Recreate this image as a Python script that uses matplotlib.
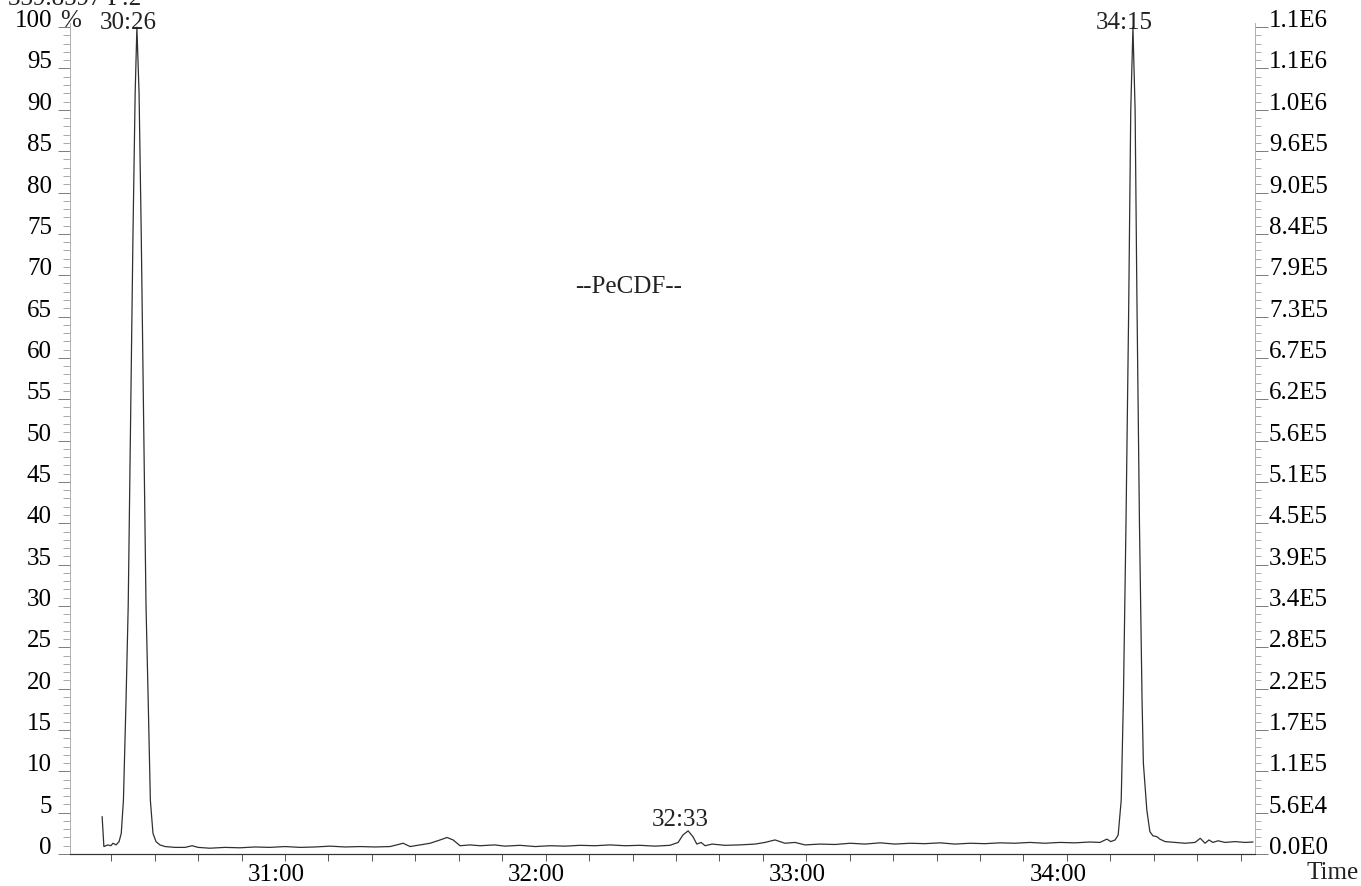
import matplotlib
matplotlib.use("Agg")
import matplotlib.pyplot as plt
import matplotlib.transforms as mtrans
from matplotlib.ticker import MultipleLocator, FuncFormatter

plt.rcParams['font.family'] = ['Liberation Serif', 'DejaVu Serif']

# retention time, seconds after 30:00
time_s = [17.9, 18.3, 19.2, 19.9, 20.4, 21.1, 21.8, 22.3, 22.8, 23.4, 23.9, 24.4,
          25.0, 25.5, 25.9, 26.4, 26.9, 27.5, 28.0, 28.5, 29.0, 29.6, 30.3, 31.2,
          32.4, 34.7, 37.0, 38.6, 40.0, 42.7, 46.2, 49.6, 53.1, 56.5, 60.0, 63.5,
          66.9, 70.4, 73.8, 77.3, 80.7, 84.2, 87.2, 88.8, 91.1, 93.4, 95.7, 97.3,
          98.7, 100.3, 102.6, 104.9, 108.3, 110.6, 114.1, 117.6, 121.0, 124.5, 127.9,
          131.4, 134.8, 138.3, 141.7, 145.2, 148.6, 150.5, 151.6, 152.8, 153.9, 154.8,
          155.8, 156.7, 158.3, 161.3, 164.7, 168.2, 170.5, 172.8, 175.1, 177.4, 179.7,
          183.2, 186.6, 190.1, 193.5, 197.0, 200.4, 203.9, 207.3, 210.8, 214.2, 217.7,
          221.1, 224.6, 228.0, 231.5, 234.9, 238.4, 241.8, 245.3, 247.6, 249.2, 250.1,
          251.1, 251.8, 252.5, 253.0, 253.6, 254.2, 254.7, 255.2, 255.7, 256.1, 256.7,
          257.3, 257.6, 258.4, 259.1, 259.8, 260.7, 261.4, 262.6, 264.9, 267.2, 269.5,
          270.7, 271.8, 272.7, 273.6, 274.8, 276.4, 278.7, 281.0, 282.8]
# relative intensity, %
intensity = [4.5, 0.9, 1.1, 1.0, 1.3, 1.1, 1.5, 2.5, 6.5, 18.6, 30.0, 50.0,
             75.0, 92.0, 100.0, 92.0, 75.0, 50.0, 30.0, 18.6, 6.5, 2.5, 1.5, 1.1,
             0.9, 0.8, 0.8, 1.0, 0.8, 0.7, 0.8, 0.75, 0.85, 0.8, 0.9, 0.8,
             0.85, 0.95, 0.85, 0.9, 0.85, 0.9, 1.3, 0.9, 1.1, 1.3, 1.7, 2.0,
             1.7, 1.0, 1.1, 1.0, 1.1, 0.95, 1.05, 0.9, 1.0, 0.95, 1.05,
             1.0, 1.1, 1.0, 1.05, 0.95, 1.05, 1.4, 2.3, 2.8, 2.1, 1.2,
             1.4, 1.0, 1.2, 1.05, 1.1, 1.2, 1.4, 1.7, 1.3, 1.4, 1.1,
             1.2, 1.15, 1.3, 1.2, 1.35, 1.2, 1.3, 1.25, 1.35, 1.2, 1.3,
             1.25, 1.35, 1.3, 1.4, 1.3, 1.4, 1.35, 1.45, 1.4, 1.8, 1.5,
             1.7, 2.3, 6.5, 18.6, 40.0, 65.0, 90.0, 100.0, 90.0, 68.0, 40.0,
             18.6, 11.0, 5.3, 2.7, 2.2, 2.1, 1.8, 1.5, 1.4, 1.3, 1.4,
             1.9, 1.3, 1.7, 1.4, 1.6, 1.4, 1.5, 1.4, 1.45]

peak_times = [25.9, 152.8, 255.2]
peak_heights = [100.0, 2.8, 100.0]
peak_labels = ["30:26", "32:33", "34:15"]

pct_ticks = list(range(0, 101, 5))
abs_labels = ["0.0E0", "5.6E4", "1.1E5", "1.7E5", "2.2E5", "2.8E5", "3.4E5",
              "3.9E5", "4.5E5", "5.1E5", "5.6E5", "6.2E5", "6.7E5", "7.3E5",
              "7.9E5", "8.4E5", "9.0E5", "9.6E5", "1.0E6", "1.1E6", "1.1E6"]

fig = plt.figure(figsize=(13.61, 8.86), dpi=100)
ax = fig.add_axes([70 / 1361, 1 - 854 / 886, (1255 - 70) / 1361, (854 - 23) / 886])

ax.plot(time_s, intensity, color='#303030', lw=0.9)
ax.set_xlim(10.5, 283.3)
ax.set_ylim(0, 100.5)

fs = 18
ax.xaxis.set_major_locator(MultipleLocator(60))
ax.xaxis.set_minor_locator(MultipleLocator(10))
ax.xaxis.set_major_formatter(FuncFormatter(lambda s, p: f"{30 + int(round(s)) // 60}:{int(round(s)) % 60:02d}"))
ax.tick_params(axis='x', which='both', direction='out', length=5, width=0.7,
               color='#555555', labelsize=fs, pad=2)
shift = mtrans.ScaledTranslation(-9 / 100, 0, fig.dpi_scale_trans)
for lab in ax.get_xticklabels():
    lab.set_transform(lab.get_transform() + shift)

ax.set_yticks(pct_ticks)
ax.set_yticklabels([str(v) for v in pct_ticks])
ax.yaxis.set_minor_locator(MultipleLocator(1))
ax.tick_params(axis='y', which='major', direction='out', length=9, width=0.6,
               color='#666666', labelsize=fs, pad=4)
ax.tick_params(axis='y', which='minor', direction='out', length=5, width=0.5,
               color='#888888')
for lab in ax.get_yticklabels():
    lab.set_va('baseline')

ax2 = ax.twinx()
ax2.set_ylim(ax.get_ylim())
ax2.set_yticks(pct_ticks)
ax2.set_yticklabels(abs_labels)
ax2.yaxis.set_minor_locator(MultipleLocator(1))
ax2.tick_params(axis='y', which='major', direction='out', length=9, width=0.6,
                color='#666666', labelsize=fs, pad=1)
ax2.tick_params(axis='y', which='minor', direction='out', length=4, width=0.5,
                color='#888888')
for lab in ax2.get_yticklabels():
    lab.set_va('baseline')

for a in (ax, ax2):
    a.spines['top'].set_visible(False)
    a.spines['left'].set_color('#aaaaaa')
    a.spines['left'].set_linewidth(0.5)
    a.spines['right'].set_color('#aaaaaa')
    a.spines['right'].set_linewidth(0.5)
    a.spines['bottom'].set_color('#333333')
    a.spines['bottom'].set_linewidth(0.8)

for t, h, lab, dy in zip(peak_times, peak_heights, peak_labels, [-1, 3.5, -1]):
    ax.annotate(lab, (t, h), xytext=(-6, dy), textcoords='offset points',
                ha='center', va='baseline', fontsize=fs, color='#222222',
                annotation_clip=False)

ax.text(139, 68.6, "--PeCDF--", fontsize=fs, ha='center', va='center', color='#222222')
ax.text(-0.0085, 100, "%", transform=ax.get_yaxis_transform(), fontsize=fs,
        ha='left', va='baseline', color='#222222')
fig.text(8 / 1361, 1 - 5 / 886, "339.8597 F:2", fontsize=fs, ha='left', va='baseline',
         color='#222222')
fig.text(1359 / 1361, 1 - 873 / 886, "Time", fontsize=fs, ha='right', va='center',
         color='#222222')

fig.savefig("out.png", dpi=100)
